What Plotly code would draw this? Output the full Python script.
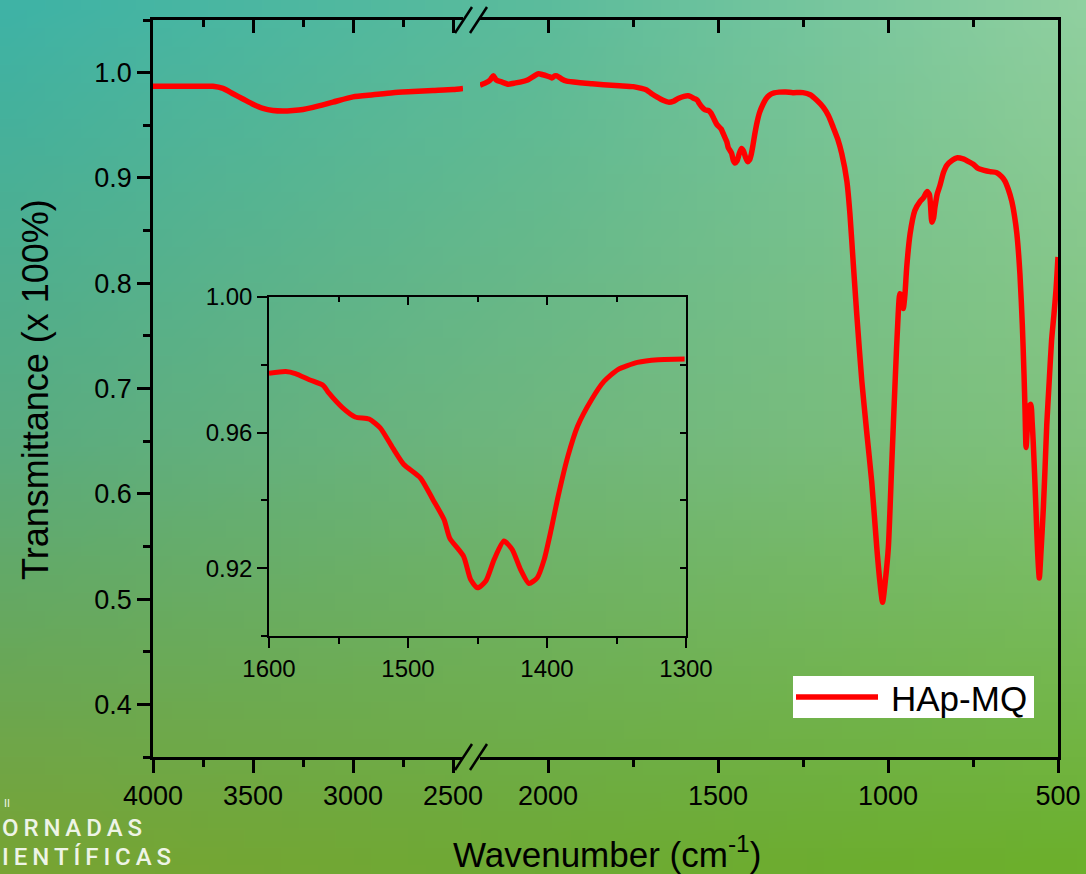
import base64
import struct
import zlib

import numpy as np
import plotly.graph_objects as go

W, H = 1086, 874

# FTIR spectrum of HAp-MQ, high-wavenumber segment (before the axis break)
wn_high = [4000, 3900, 3800, 3700, 3650, 3600, 3550, 3500, 3450, 3400, 3350,
           3300, 3250, 3200, 3100, 3000, 2900, 2800, 2700, 2600, 2500, 2450]
t_high = [0.987, 0.987, 0.987, 0.987, 0.985, 0.980, 0.975, 0.970, 0.966, 0.964, 0.9635,
          0.964, 0.965, 0.967, 0.972, 0.977, 0.979, 0.981, 0.982, 0.983, 0.984, 0.985]

# low-wavenumber segment (after the axis break)
wn_low = [2200, 2185, 2170, 2161, 2152, 2135, 2117, 2100, 2082, 2060, 2040, 2028,
          2015, 2004, 1995, 1989, 1980, 1974, 1960, 1945, 1906, 1870, 1837, 1790,
          1749, 1725, 1710, 1695, 1680, 1660, 1646, 1630, 1617,
          1600, 1588, 1581, 1571, 1561, 1557, 1547, 1538, 1528, 1520, 1511, 1503,
          1491, 1482, 1474, 1470, 1460, 1455, 1450, 1444, 1438, 1431, 1425, 1419,
          1413, 1407, 1402, 1397, 1392, 1385, 1378, 1368, 1359, 1349, 1335, 1320,
          1301, 1280, 1250, 1229, 1210, 1190, 1175, 1161, 1148, 1136, 1121, 1112,
          1102, 1092, 1077, 1063, 1048, 1033, 1024, 1016, 1008, 999, 989, 979,
          970, 965, 960, 955, 950, 945, 935, 921, 905, 896, 885, 878, 871, 866,
          862, 855, 847, 837, 827, 810, 798, 779, 760, 749, 735, 720, 700, 680,
          665, 656, 646, 636, 628, 621, 612, 605, 600, 597, 594, 590, 587, 580,
          576, 573, 569, 565, 560, 555, 550, 543, 538, 533, 526, 519, 512, 506, 500]
t_low = [0.988, 0.990, 0.993, 0.997, 0.993, 0.991, 0.989, 0.990, 0.991, 0.993, 0.997, 0.999,
         0.998, 0.997, 0.996, 0.995, 0.997, 0.997, 0.994, 0.992, 0.9905, 0.9895, 0.9886, 0.9876,
         0.9867, 0.985, 0.9835, 0.980, 0.977, 0.9735, 0.972, 0.973, 0.9755,
         0.9775, 0.978, 0.9774, 0.9756, 0.9739, 0.9717, 0.9673, 0.9646, 0.964, 0.9614, 0.9555, 0.9506,
         0.9466, 0.9402, 0.9343, 0.9289, 0.9235, 0.9167, 0.9142, 0.9162, 0.9226, 0.928, 0.9255, 0.9196,
         0.9155, 0.9172, 0.9226, 0.9314, 0.9412, 0.953, 0.9619, 0.9697, 0.9751, 0.9786, 0.9807, 0.9815,
         0.9817, 0.981, 0.981, 0.979, 0.974, 0.967, 0.959, 0.948, 0.937, 0.923, 0.897, 0.866,
         0.818, 0.771, 0.707, 0.660, 0.612, 0.549, 0.517, 0.497, 0.517, 0.549, 0.628, 0.707,
         0.771, 0.790, 0.788, 0.776, 0.790, 0.815, 0.847, 0.869, 0.878, 0.881, 0.887, 0.884, 0.858, 0.862,
         0.872, 0.885, 0.893, 0.905, 0.912, 0.917, 0.919, 0.918, 0.915, 0.913, 0.909, 0.9075, 0.906, 0.905,
         0.901, 0.897, 0.889, 0.878, 0.864, 0.847, 0.809, 0.761, 0.714, 0.680, 0.644, 0.664, 0.682, 0.685,
         0.668, 0.650, 0.620, 0.587, 0.545, 0.520, 0.545, 0.587, 0.625, 0.666, 0.706, 0.745, 0.770, 0.793, 0.825]

series_name = "HAp-MQ"
inset_range = (1600, 1300)

FONT = "Liberation Sans, Arial, sans-serif"
RED = "#ff0000"


def px(x):
    return x / W


def py(y):
    return 1 - y / H


def gradient_png(width, height):
    # 3x3 colour control grid, bilinearly blended into a small PNG
    grid = np.array([
        [[63, 179, 166], [92, 188, 156], [144, 208, 160]],
        [[90, 172, 128], [112, 183, 126], [128, 194, 124]],
        [[120, 164, 52], [110, 170, 52], [108, 176, 44]],
    ], dtype=float)
    ys = np.linspace(0, 2, height)
    xs = np.linspace(0, 2, width)
    img = np.zeros((height, width, 3))
    for i, yv in enumerate(ys):
        r0 = min(int(yv), 1)
        fy = yv - r0
        for j, xv in enumerate(xs):
            c0 = min(int(xv), 1)
            fx = xv - c0
            top = grid[r0, c0] * (1 - fx) + grid[r0, c0 + 1] * fx
            bot = grid[r0 + 1, c0] * (1 - fx) + grid[r0 + 1, c0 + 1] * fx
            img[i, j] = top * (1 - fy) + bot * fy
    img = np.clip(img, 0, 255).astype(np.uint8)
    raw = b"".join(b"\x00" + img[i].tobytes() for i in range(height))

    def chunk(tag, data):
        return (struct.pack(">I", len(data)) + tag + data
                + struct.pack(">I", zlib.crc32(tag + data) & 0xFFFFFFFF))

    png = (b"\x89PNG\r\n\x1a\n"
           + chunk(b"IHDR", struct.pack(">IIBBBBB", width, height, 8, 2, 0, 0, 0))
           + chunk(b"IDAT", zlib.compress(raw, 9))
           + chunk(b"IEND", b""))
    return "data:image/png;base64," + base64.b64encode(png).decode()


inset_wn = [w for w in wn_low if inset_range[1] <= w <= inset_range[0]]
inset_t = [t for w, t in zip(wn_low, t_low) if inset_range[1] <= w <= inset_range[0]]

fig = go.Figure()
line = dict(color=RED, width=5.5, shape="spline", smoothing=0.6)
fig.add_trace(go.Scatter(x=wn_high, y=t_high, mode="lines", line=line,
                         name=series_name, xaxis="x", yaxis="y"))
fig.add_trace(go.Scatter(x=wn_low, y=t_low, mode="lines", line=line,
                         name=series_name, xaxis="x2", yaxis="y2"))
fig.add_trace(go.Scatter(x=inset_wn, y=inset_t, mode="lines",
                         line=dict(color=RED, width=5, shape="spline", smoothing=0.6),
                         name=series_name, xaxis="x5", yaxis="y3"))
# empty traces so that the mirrored frame axes (top / right) get their own subplots
for xa, ya in (("x3", "y"), ("x4", "y2"), ("x6", "y3"), ("x5", "y4")):
    fig.add_trace(go.Scatter(x=[None], y=[None], mode="lines", xaxis=xa, yaxis=ya,
                             hoverinfo="skip"))

# main plot geometry (pixels)
L, R1, R2, R = 153, 463, 480, 1058
TOP, BOT = 20, 757
main_y_dom = [py(BOT), py(TOP)]

axis_common = dict(showgrid=False, zeroline=False, showline=True, linecolor="black",
                   linewidth=2.5, tickcolor="black", tickwidth=2.5, automargin=False,
                   tickfont=dict(family=FONT, size=27, color="black"))

bottom_x = dict(ticks="outside", ticklen=13, tickmode="linear", tick0=0, dtick=500,
                minor=dict(ticks="outside", ticklen=7, dtick=250, tick0=0,
                           tickcolor="black", tickwidth=2.5))
top_x = dict(ticks="inside", ticklen=13, tickmode="linear", tick0=0, dtick=500,
             showticklabels=False, side="top",
             minor=dict(ticks="inside", ticklen=7, dtick=250, tick0=0,
                        tickcolor="black", tickwidth=2.5))

fig.update_layout(
    width=W, height=H,
    margin=dict(l=0, r=0, t=0, b=0, pad=0, autoexpand=False),
    paper_bgcolor="#6cb27a",
    plot_bgcolor="rgba(0,0,0,0)",
    font=dict(family=FONT, color="black"),
    showlegend=False,
    xaxis=dict(domain=[px(L), px(R1)], range=[4000, 2450], anchor="y",
               **axis_common, **bottom_x),
    xaxis2=dict(domain=[px(R2), px(R)], range=[2200, 500], anchor="y2",
                **axis_common, **bottom_x),
    xaxis3=dict(domain=[px(L), px(R1)], range=[4000, 2450], anchor="y",
                overlaying="x", **axis_common, **top_x),
    xaxis4=dict(domain=[px(R2), px(R)], range=[2200, 500], anchor="y2",
                overlaying="x2", **axis_common, **top_x),
    yaxis=dict(domain=main_y_dom, range=[0.35, 1.05], anchor="x",
               ticks="outside", ticklen=13, tickmode="linear", tick0=0, dtick=0.1,
               tickformat=".1f",
               minor=dict(ticks="outside", ticklen=7, dtick=0.05, tick0=0,
                          tickcolor="black", tickwidth=2.5),
               **axis_common),
    yaxis2=dict(domain=main_y_dom, range=[0.35, 1.05], anchor="x2", side="right",
                ticks="", showticklabels=False, **axis_common),
)

# inset geometry (pixels)
IL, IR, IT, IB = 269, 686, 297, 636
inset_common = dict(showgrid=False, zeroline=False, showline=True, linecolor="black",
                    linewidth=1.5, tickcolor="black", tickwidth=1.5, automargin=False,
                    tickfont=dict(family=FONT, size=24, color="black"))
fig.update_layout(
    xaxis5=dict(domain=[px(IL), px(IR)], range=list(inset_range), anchor="y3",
                ticks="outside", ticklen=10, tickmode="linear", tick0=0, dtick=100,
                minor=dict(ticks="outside", ticklen=6, dtick=50, tick0=0,
                           tickcolor="black", tickwidth=1.5),
                **inset_common),
    xaxis6=dict(domain=[px(IL), px(IR)], range=list(inset_range), anchor="y3",
                overlaying="x5", side="top", showticklabels=False,
                ticks="inside", ticklen=8, tickmode="linear", tick0=0, dtick=100,
                minor=dict(ticks="inside", ticklen=5, dtick=50, tick0=0,
                           tickcolor="black", tickwidth=1.5),
                **inset_common),
    yaxis3=dict(domain=[py(IB), py(IT)], range=[0.90, 1.00], anchor="x5",
                ticks="outside", ticklen=10, tickmode="linear", tick0=0.92, dtick=0.04,
                tickformat=".2f",
                minor=dict(ticks="outside", ticklen=6, dtick=0.02, tick0=0.92,
                           tickcolor="black", tickwidth=1.5),
                **inset_common),
    yaxis4=dict(domain=[py(IB), py(IT)], range=[0.90, 1.00], anchor="x5",
                overlaying="y3", side="right", showticklabels=False,
                ticks="inside", ticklen=6, tickmode="linear", tick0=0.92, dtick=0.04,
                minor=dict(ticks="inside", ticklen=6, dtick=0.02, tick0=0.92,
                           tickcolor="black", tickwidth=1.5),
                **inset_common),
)

# axis-break marks on the bottom and top axes
shapes = []
for yc in (BOT, TOP):
    for x0 in (455, 470):
        shapes.append(dict(type="line", xref="paper", yref="paper",
                           x0=px(x0), y0=py(yc + 13), x1=px(x0 + 17), y1=py(yc - 13),
                           line=dict(color="black", width=2.5)))

# legend box with line sample
LEG_X0, LEG_X1, LEG_Y0, LEG_Y1 = 793, 1034, 676, 718
leg_mid = (LEG_Y0 + LEG_Y1) / 2
shapes.append(dict(type="rect", xref="paper", yref="paper",
                   x0=px(LEG_X0), x1=px(LEG_X1), y0=py(LEG_Y1), y1=py(LEG_Y0),
                   fillcolor="white", line=dict(width=0)))
shapes.append(dict(type="line", xref="paper", yref="paper",
                   x0=px(LEG_X0 + 3), x1=px(LEG_X0 + 85), y0=py(leg_mid), y1=py(leg_mid),
                   line=dict(color=RED, width=5.5)))
fig.update_layout(shapes=shapes)

fig.update_layout(
    images=[dict(source=gradient_png(60, 48), xref="paper", yref="paper",
                 x=0, y=1, sizex=1, sizey=1, xanchor="left", yanchor="top",
                 sizing="stretch", layer="below")],
)

annotations = [
    dict(text=series_name, x=px(LEG_X0 + 96), y=py(leg_mid + 1), xanchor="left",
         font=dict(family=FONT, size=35, color="black")),
    dict(text="Transmittance (x 100%)", x=px(35), y=py(390), textangle=-90,
         font=dict(family=FONT, size=36, color="black")),
    dict(text="Wavenumber (cm<sup>-1</sup>)", x=px(607), y=py(852),
         font=dict(family=FONT, size=35, color="black")),
    dict(text="II", x=px(2), y=py(803), xanchor="left",
         font=dict(family="Roboto", size=11, color="#eef4e6")),
    dict(text="\u2009".join("ORNADAS"), x=0, y=py(828), xanchor="left",
         font=dict(family="Roboto", size=24, color="#eef4e6", weight=500)),
    dict(text="\u2009".join("IENTÍFICAS"), x=0, y=py(857), xanchor="left",
         font=dict(family="Roboto", size=24, color="#eef4e6", weight=500)),
]
for a in annotations:
    a.update(xref="paper", yref="paper", showarrow=False)
    a.setdefault("xanchor", "center")
    a.setdefault("yanchor", "middle")
fig.update_layout(annotations=annotations)

fig.write_html("out.html")
